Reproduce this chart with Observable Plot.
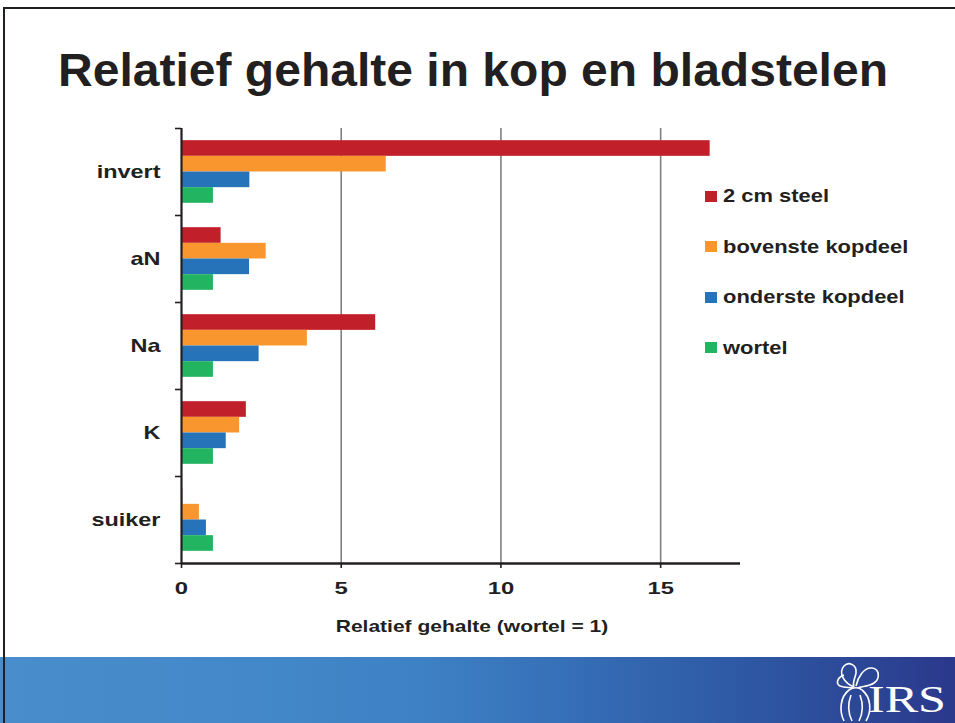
<!DOCTYPE html>
<html>
<head>
<meta charset="utf-8">
<script src="https://cdn.jsdelivr.net/npm/d3@7"></script>
<script src="https://cdn.jsdelivr.net/npm/@observablehq/plot@0.6"></script>
<style>
  html, body { margin: 0; padding: 0; background: #fff; }
  #slide { position: relative; width: 955px; height: 723px; overflow: hidden; background: #fff;
           font-family: "Liberation Sans", Arial, sans-serif; color: #231f20; }
  #title { position: absolute; left: 58px; top: 47px; font-size: 46px; line-height: 46px; font-weight: bold;
           white-space: nowrap; transform-origin: 0 0; }
  #chart { position: absolute; left: 0; top: 100px; }
  .item { position: absolute; left: 705px; height: 20px; display: flex; align-items: center; }
  .sw { width: 12px; height: 11px; flex: none; }
  .lbl { margin-left: 6px; font-size: 18.6px; line-height: 20px; font-weight: bold; white-space: nowrap;
         transform-origin: 0 50%; display: inline-block; }
  #band { position: absolute; left: 0; top: 657px; width: 955px; height: 66px;
          background: linear-gradient(to right, #4a8dcc 0%, #4287c8 30%, #3e80c4 45%, #346cb4 62%, #2d539f 82%, #2b388c 100%); }
  #logo { position: absolute; left: 830px; top: 657px; }
  #border { position: absolute; left: 3px; top: 7px; width: 980px; height: 740px; border: 2px solid #231f20;
            box-sizing: border-box; pointer-events: none; }
</style>
</head>
<body>
<div id="slide">
  <div id="band"></div>
  <svg id="logo" width="125" height="66" viewBox="0 0 125 66">
    <g fill="none" stroke="#fff" stroke-width="1.6">
      <path d="M24 30 C14 26 8 16 14 9 C19 4 27 8 26 16 C25 22 22 26 24 30"/>
      <path d="M26 29 C28 20 34 10 42 11 C50 12 50 22 44 26 C38 30 31 29 28 31"/>
      <path d="M14 18 C8 20 5 26 10 29 C15 31 20 30 23 31"/>
      <path d="M19 33 C10 40 9 54 14 64"/>
      <path d="M32 33 C41 40 42 54 36 64"/>
      <path d="M19 33 C23 30 29 30 32 33"/>
      <path d="M21 38 C18 46 18 56 22 64"/>
      <path d="M30 38 C33 46 33 56 29 64"/>
    </g>
    <text id="irs" x="38" y="55" fill="#fff" font-family="Liberation Serif, DejaVu Serif, serif" font-size="38">IRS</text>
  </svg>
  <div id="title">Relatief gehalte in kop en bladstelen</div>
  <div id="chart"></div>
  <div id="legend"></div>
  <div id="border"></div>
</div>
<script>
// ---- data ----
const categories = ["invert", "aN", "Na", "K", "suiker"];
const seriesNames = ["2 cm steel", "bovenste kopdeel", "onderste kopdeel", "wortel"];
const seriesColors = ["#c1202a", "#f9972e", "#2673ba", "#22b461"];
const steel     = [16.55, 1.24, 6.08, 2.03, 0.04];
const bovenste  = [6.41, 2.65, 3.94, 1.82, 0.56];
const onderste  = [2.14, 2.13, 2.43, 1.40, 0.78];
const wortel    = [1, 1, 1, 1, 1];
const xTicks = [0, 5, 10, 15];
const xMax = 17.5;
const axisTitle = "Relatief gehalte (wortel = 1)";
const chartTitle = "Relatief gehalte in kop en bladstelen";

const seriesValues = [steel, bovenste, onderste, wortel];
const rows = [];
categories.forEach((c, ci) => seriesNames.forEach((s, si) =>
  rows.push({category: c, ci, series: s, si, value: seriesValues[si][ci]})));

const pad = 0.14, bh = 0.18;
const ink = "#231f20";

const chart = Plot.plot({
  width: 955, height: 560,
  marginTop: 28, marginLeft: 181, marginRight: 215, marginBottom: 97,
  style: {fontFamily: "'Liberation Sans', Arial, sans-serif", background: "transparent", overflow: "visible", color: ink},
  x: {domain: [0, xMax]},
  y: {domain: [0, categories.length], reverse: true},
  color: {domain: seriesNames, range: seriesColors},
  marks: [
    Plot.ruleX(xTicks.filter(t => t > 0), {stroke: "#7f7f7f", strokeWidth: 1.6}),
    Plot.rectX(rows, {
      x1: 0, x2: "value",
      y1: d => d.ci + pad + d.si * bh,
      y2: d => d.ci + pad + (d.si + 1) * bh,
      fill: "series"
    }),
    Plot.ruleX([0], {stroke: ink, strokeWidth: 2.2}),
    Plot.ruleY([categories.length], {stroke: ink, strokeWidth: 2.6}),
    Plot.axisY({ticks: d3.range(categories.length + 1), tickSize: 6, tickFormat: () => "", color: ink, strokeWidth: 1.6, label: null}),
    Plot.axisY({ticks: categories.map((c, i) => i + 0.5), tickSize: 0, tickPadding: 21,
      tickFormat: v => categories[Math.floor(v)], fontSize: 18.6, fontWeight: "bold", color: ink, label: null}),
    Plot.axisX({ticks: xTicks, tickSize: 5, tickPadding: 13, fontSize: 17, fontWeight: "bold", color: ink,
      strokeWidth: 1.6, label: null}),
    Plot.text([axisTitle], {frameAnchor: "bottom", dy: 68, dx: 11, fontSize: 16.3, fontWeight: "bold", fill: ink})
  ]
});
document.getElementById("chart").appendChild(chart);

// stretch text horizontally to match the reference's wide lettering
function stretch(sel, factor) {
  chart.querySelectorAll(sel).forEach(t => {
    if (!t.textContent) return;
    const w = t.getComputedTextLength();
    t.setAttribute("textLength", (w * factor).toFixed(1));
    t.setAttribute("lengthAdjust", "spacingAndGlyphs");
  });
}
stretch('g[aria-label="y-axis tick label"] text', 1.26);
stretch('g[aria-label="x-axis tick label"] text', 1.4);
stretch('g[aria-label="text"] text', 1.29);

// legend
const legend = document.getElementById("legend");
const legendCenters = [196, 246.5, 297, 347.5];
seriesNames.forEach((s, i) => {
  const item = document.createElement("div");
  item.className = "item";
  item.style.top = (legendCenters[i] - 10) + "px";
  const sw = document.createElement("span");
  sw.className = "sw";
  sw.style.background = seriesColors[i];
  const lb = document.createElement("span");
  lb.className = "lbl";
  lb.textContent = s;
  lb.style.transform = "scaleX(1.18)";
  item.appendChild(sw); item.appendChild(lb);
  legend.appendChild(item);
});

// title width
const title = document.getElementById("title");
title.textContent = chartTitle;
const tw = title.getBoundingClientRect().width;
title.style.transform = `scaleX(${830 / tw})`;

const irs = document.getElementById("irs");
irs.setAttribute("textLength", 78);
irs.setAttribute("lengthAdjust", "spacingAndGlyphs");
</script>
</body>
</html>
